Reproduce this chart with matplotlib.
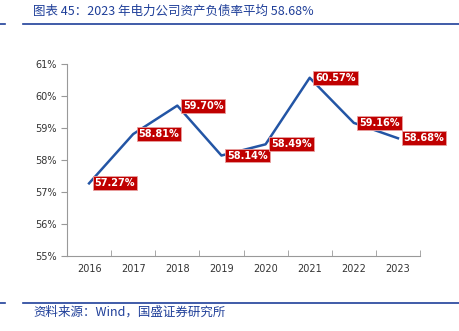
import matplotlib.pyplot as plt
from matplotlib.lines import Line2D

plt.rcParams['font.family'] = ['Noto Sans CJK SC', 'DejaVu Sans']

years = ['2016', '2017', '2018', '2019', '2020', '2021', '2022', '2023']
ratio = [57.27, 58.81, 59.70, 58.14, 58.49, 60.57, 59.16, 58.68]

title = '图表 45：2023 年电力公司资产负债率平均 58.68%'
source = '资料来源：Wind，国盛证券研究所'

blue = '#1f3f99'
line_blue = '#2355a5'
red = '#c00000'

fig = plt.figure(figsize=(4.59, 3.31), dpi=100)
ax = fig.add_axes([67/459, 1 - 256/331, (420-67)/459, (256-64)/331])

x = list(range(len(years)))
ax.plot(x, ratio, color=line_blue, lw=1.8)

for i, v in enumerate(ratio):
    ax.annotate('%.2f%%' % v, (i, v), xytext=(4, 0), textcoords='offset points',
                ha='left', va='center', color='white', fontsize=7, fontweight='bold',
                family=['DejaVu Sans'],
                bbox=dict(boxstyle='square,pad=0.2', fc=red, ec='#e8a0a0', lw=0.6))

ax.set_xlim(-0.5, 7.5)
ax.set_ylim(55, 61)
ax.set_yticks(range(55, 62))
ax.set_yticklabels(['%d%%' % t for t in range(55, 62)], family=['DejaVu Sans'])
ax.set_xticks(x)
ax.set_xticklabels(years, family=['DejaVu Sans'])
ax.set_xticks([i + 0.5 for i in range(-1, 8)], minor=True)
ax.tick_params(axis='x', which='major', length=0, pad=6)
ax.tick_params(axis='x', which='minor', length=4, color='#999999', direction='in')
ax.tick_params(axis='y', length=4, color='#999999', direction='out', width=0.8)
ax.tick_params(labelsize=7, labelcolor='#333333')
for s in ['top', 'right']:
    ax.spines[s].set_visible(False)
for s in ['left', 'bottom']:
    ax.spines[s].set_color('#999999')
    ax.spines[s].set_linewidth(0.8)

fig.text(33/459, 1 - 11/331, title, color=blue, fontsize=9, style='italic',
         ha='left', va='center')
fig.text(33/459, 1 - 312/331, source, color=blue, fontsize=9, style='italic',
         ha='left', va='center')

for yy in [24, 303]:
    fig.add_artist(Line2D([23/459, 1], [1 - yy/331] * 2, color=blue, lw=1.2))
    fig.add_artist(Line2D([0, 5/459], [1 - yy/331] * 2, color=blue, lw=1.2))

fig.savefig('out.png', dpi=100)
